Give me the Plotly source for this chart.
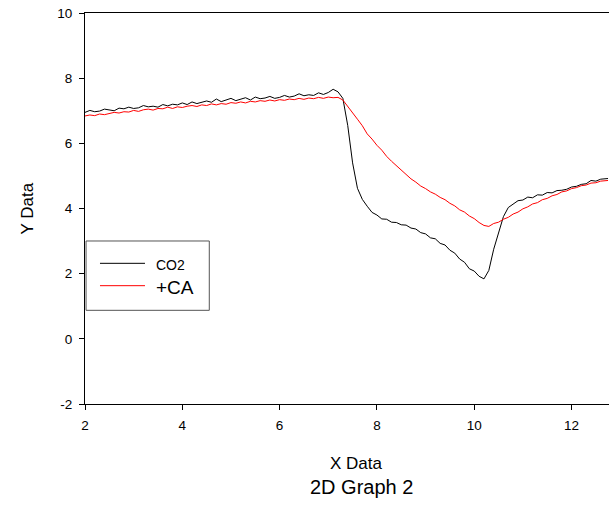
import plotly.graph_objects as go

# ---------------- data ----------------
x_co2 = [2.0, 2.1, 2.2, 2.3, 2.4, 2.5, 2.6, 2.7, 2.8, 2.9,
         3.0, 3.1, 3.2, 3.3, 3.4, 3.5, 3.6, 3.7, 3.8, 3.9,
         4.0, 4.1, 4.2, 4.3, 4.4, 4.5, 4.6, 4.7, 4.8, 4.9,
         5.0, 5.1, 5.2, 5.3, 5.4, 5.5, 5.6, 5.7, 5.8, 5.9,
         6.0, 6.1, 6.2, 6.3, 6.4, 6.5, 6.6, 6.7, 6.8, 6.9,
         7.0, 7.1, 7.2, 7.3, 7.4, 7.5, 7.6, 7.7, 7.8, 7.9,
         8.0, 8.1, 8.2, 8.3, 8.4, 8.5, 8.6, 8.7, 8.8, 8.9,
         9.0, 9.1, 9.2, 9.3, 9.4, 9.5, 9.6, 9.7, 9.8, 9.9,
         10.0, 10.1, 10.2, 10.3, 10.4, 10.5, 10.6, 10.7, 10.8, 10.9,
         11.0, 11.1, 11.2, 11.3, 11.4, 11.5, 11.6, 11.7, 11.8, 11.9,
         12.0, 12.1, 12.2, 12.3, 12.4, 12.5, 12.6, 12.75]
y_co2 = [6.95, 7.01, 6.97, 6.99, 7.05, 7.02, 7.00, 7.08, 7.06, 7.11,
         7.07, 7.09, 7.16, 7.12, 7.14, 7.11, 7.19, 7.15, 7.20, 7.18,
         7.24, 7.19, 7.27, 7.22, 7.25, 7.30, 7.26, 7.36, 7.28, 7.33,
         7.38, 7.31, 7.35, 7.40, 7.33, 7.42, 7.37, 7.39, 7.44, 7.38,
         7.41, 7.47, 7.42, 7.45, 7.52, 7.46, 7.49, 7.47, 7.55, 7.50,
         7.56, 7.66, 7.58, 7.38, 6.55, 5.40, 4.62, 4.28, 4.07, 3.88,
         3.80, 3.68, 3.67, 3.58, 3.57, 3.50, 3.49, 3.40, 3.37, 3.26,
         3.22, 3.10, 3.07, 2.93, 2.88, 2.72, 2.63, 2.45, 2.35, 2.15,
         2.08, 1.92, 1.84, 2.10, 2.75, 3.25, 3.75, 4.03, 4.14, 4.24,
         4.26, 4.35, 4.33, 4.42, 4.41, 4.49, 4.48, 4.55, 4.56, 4.59,
         4.66, 4.68, 4.74, 4.76, 4.86, 4.84, 4.90, 4.92]

x_ca = list(x_co2)
y_ca = [6.84, 6.87, 6.85, 6.90, 6.88, 6.92, 6.95, 6.93, 6.97, 6.96,
        7.01, 6.98, 7.03, 7.05, 7.02, 7.07, 7.06, 7.11, 7.07, 7.12,
        7.10, 7.14, 7.16, 7.13, 7.18, 7.16, 7.21, 7.18, 7.22, 7.20,
        7.25, 7.23, 7.27, 7.24, 7.29, 7.27, 7.31, 7.29, 7.33, 7.30,
        7.34, 7.32, 7.36, 7.34, 7.38, 7.35, 7.39, 7.37, 7.41, 7.38,
        7.42, 7.40, 7.41, 7.33, 7.14, 6.96, 6.74, 6.54, 6.29, 6.13,
        5.94, 5.79, 5.60, 5.45, 5.31, 5.16, 5.05, 4.91, 4.81, 4.69,
        4.61, 4.51, 4.44, 4.34, 4.27, 4.16, 4.08, 3.96, 3.89, 3.77,
        3.69, 3.57, 3.48, 3.45, 3.54, 3.58, 3.67, 3.73, 3.83, 3.89,
        3.99, 4.05, 4.14, 4.18, 4.27, 4.31, 4.39, 4.43, 4.51, 4.54,
        4.61, 4.64, 4.70, 4.72, 4.78, 4.79, 4.84, 4.86]

assert len(x_co2) == len(y_co2) == len(y_ca)

x_ticks = [2, 4, 6, 8, 10, 12]
y_ticks = [-2, 0, 2, 4, 6, 8, 10]
series_names = ["CO2", "+CA"]
series_colors = ["#000000", "#ff0000"]

FONT = "Liberation Sans, Arial, sans-serif"

fig = go.Figure()
fig.add_trace(go.Scatter(x=x_co2, y=y_co2, mode="lines", name=series_names[0],
                         line=dict(color=series_colors[0], width=1), showlegend=False))
fig.add_trace(go.Scatter(x=x_ca, y=y_ca, mode="lines", name=series_names[1],
                         line=dict(color=series_colors[1], width=1), showlegend=False))

# legend drawn manually (box, sample lines, labels)
shapes = [
    dict(type="rect", xref="paper", yref="paper", x0=0.002, x1=0.2372, y0=0.2396, y1=0.4169,
         line=dict(color="#555555", width=1), fillcolor="white", layer="above"),
    dict(type="line", xref="paper", yref="paper", x0=0.0286, x1=0.1145, y0=0.3598, y1=0.3598,
         line=dict(color=series_colors[0], width=1), layer="above"),
    dict(type="line", xref="paper", yref="paper", x0=0.0286, x1=0.1145, y0=0.3026, y1=0.3026,
         line=dict(color=series_colors[1], width=1), layer="above"),
]
annotations = [
    dict(xref="paper", yref="paper", x=0.1317, y=0.3555, text=series_names[0], showarrow=False,
         xanchor="left", yanchor="middle", font=dict(family=FONT, size=14, color="black")),
    dict(xref="paper", yref="paper", x=0.1317, y=0.298, text=series_names[1], showarrow=False,
         xanchor="left", yanchor="middle", font=dict(family=FONT, size=19, color="black")),
    dict(xref="paper", yref="paper", x=0.5172, y=-0.1509, text="X Data", showarrow=False,
         xanchor="center", yanchor="middle", font=dict(family=FONT, size=17, color="black")),
    dict(xref="paper", yref="paper", x=0.5277, y=-0.2123, text="2D Graph 2", showarrow=False,
         xanchor="center", yanchor="middle", font=dict(family=FONT, size=20, color="black")),
    dict(xref="paper", yref="paper", x=-0.1101, y=0.501, text="Y Data", showarrow=False,
         textangle=-90, xanchor="center", yanchor="middle", font=dict(family=FONT, size=17, color="black")),
]

fig.update_layout(
    width=609, height=505,
    margin=dict(l=85, r=0, t=13, b=101),
    paper_bgcolor="white", plot_bgcolor="white",
    font=dict(family=FONT, size=13.5, color="black"),
    shapes=shapes, annotations=annotations,
    xaxis=dict(range=[2, 12.77], tickvals=x_ticks, ticktext=[str(v) for v in x_ticks],
               showgrid=False, zeroline=False, showline=True, linecolor="black", linewidth=1,
               mirror=True, ticks="outside", ticklen=5, tickcolor="black", ticklabelstandoff=4,
               tickfont=dict(family=FONT, size=13.5, color="black")),
    yaxis=dict(range=[-2, 10], tickvals=y_ticks, ticktext=[str(v) for v in y_ticks],
               showgrid=False, zeroline=False, showline=True, linecolor="black", linewidth=1,
               mirror=False, ticks="outside", ticklen=5, tickcolor="black", ticklabelstandoff=4,
               tickfont=dict(family=FONT, size=13.5, color="black")),
)

fig.write_html("out.html")
